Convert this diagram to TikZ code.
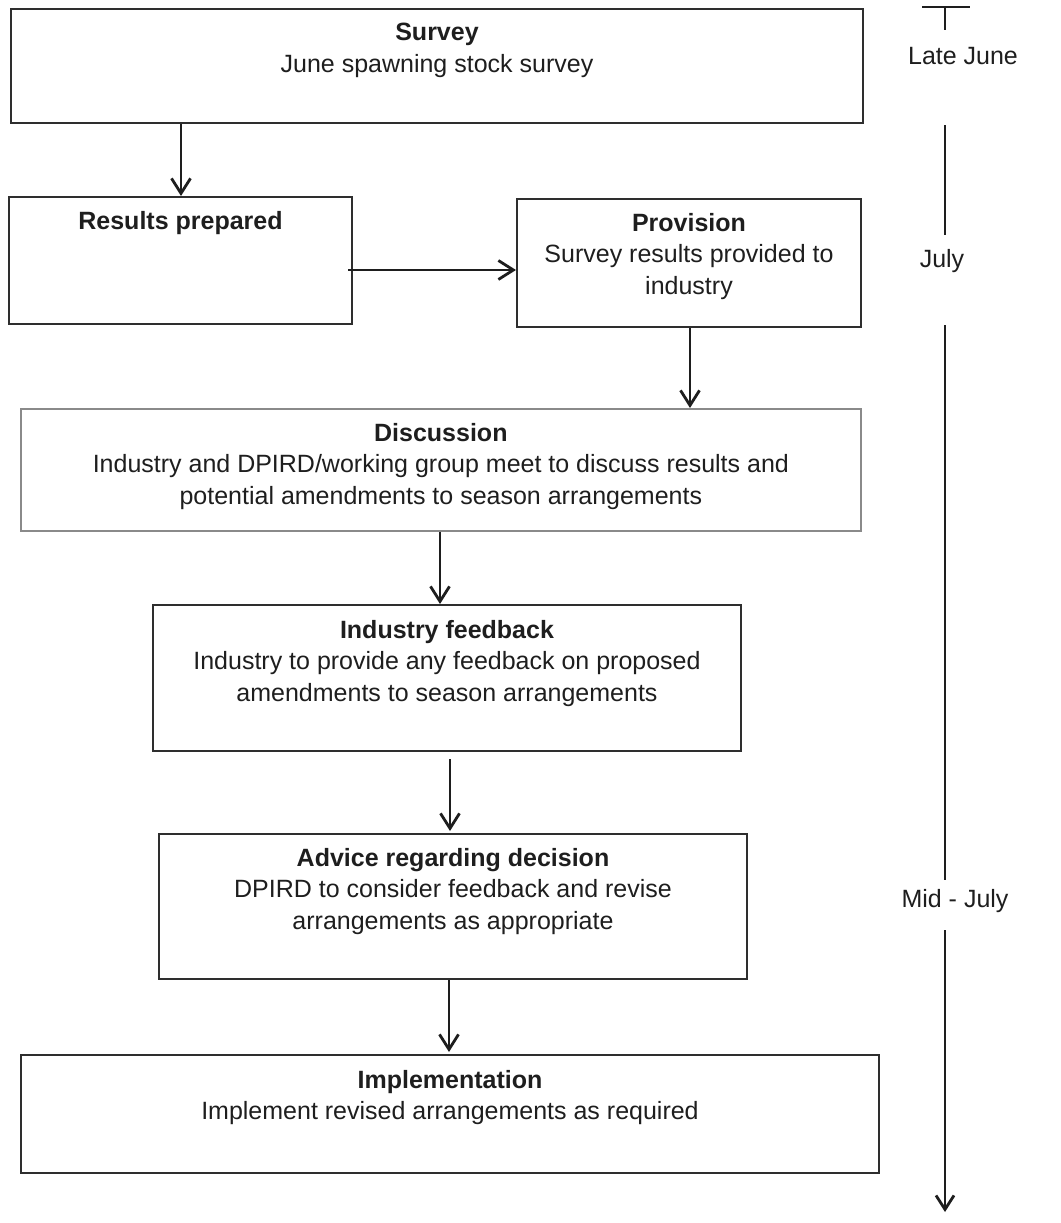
\documentclass[tikz,border=0pt]{standalone}
\usepackage{fontspec}
\setmainfont{Liberation Sans}
\usetikzlibrary{arrows.meta}
\definecolor{ink}{HTML}{1E1E1E}
\definecolor{frame}{HTML}{2E2E2E}
\definecolor{softframe}{HTML}{8A8A8A}
\begin{document}
\begin{tikzpicture}[x=1pt,y=-1pt,
  box/.style={draw=frame, line width=2pt, rectangle, anchor=north west, inner sep=0pt},
  softbox/.style={box, draw=softframe, line width=1.7pt},
  txt/.style={anchor=north, inner sep=0pt, align=center, text=ink,
    font=\fontsize{25}{31.5}\selectfont},
  flow/.style={draw=ink, line width=2.4pt, -{Straight Barb[length=15pt,width=19pt,line width=2.8pt]}},
  time/.style={draw=ink, line width=2.4pt},
  when/.style={text=ink, inner sep=0pt, font=\fontsize{25}{31.5}\selectfont}]
\useasboundingbox (0,0) rectangle (1060,1223);

% process boxes
\node[box, minimum width=852pt, minimum height=114pt] (survey) at (10,8) {};
\node[box, minimum width=343pt, minimum height=127pt] (results) at (8,196) {};
\node[box, minimum width=344pt, minimum height=128pt] (prov) at (516,198) {};
\node[softbox, minimum width=840pt, minimum height=122pt] (disc) at (20,408) {};
\node[box, minimum width=588pt, minimum height=146pt] (feed) at (152,604) {};
\node[box, minimum width=588pt, minimum height=145pt] (advice) at (158,833) {};
\node[box, minimum width=858pt, minimum height=118pt] (impl) at (20,1054) {};

% box texts
\node[txt] (survey-t) at ([yshift=-15pt]survey.north) {\textbf{Survey}\\June spawning stock survey};
\node[txt] (results-t) at ([yshift=-15pt]results.north) {\textbf{Results prepared}};
\node[txt] (prov-t) at ([yshift=-15pt]prov.north) {\textbf{Provision}\\Survey results provided to\\industry};
\node[txt] (disc-t) at ([yshift=-15pt]disc.north) {\textbf{Discussion}\\Industry and DPIRD/working group meet to discuss results and\\potential amendments to season arrangements};
\node[txt] (feed-t) at ([yshift=-16pt]feed.north) {\textbf{Industry feedback}\\Industry to provide any feedback on proposed\\amendments to season arrangements};
\node[txt] (advice-t) at ([yshift=-15pt]advice.north) {\textbf{Advice regarding decision}\\DPIRD to consider feedback and revise\\arrangements as appropriate};
\node[txt] (impl-t) at ([yshift=-16pt]impl.north) {\textbf{Implementation}\\Implement revised arrangements as required};

% flow arrows
\draw[flow] (survey.south -| 181,0) -- (results.north -| 181,0);
\draw[flow] (348,270) -- (prov.west |- 0,270);
\draw[flow] (prov.south -| 690,0) -- (disc.north -| 690,0);
\draw[flow] (disc.south -| 440,0) -- (feed.north -| 440,0);
\draw[flow] ([yshift=-7pt]feed.south -| 450,0) -- ([yshift=2pt]advice.north -| 450,0);
\draw[flow] (advice.south -| 449,0) -- ([yshift=2pt]impl.north -| 449,0);

% timeline
\node[when] (lj) at (963,56) {Late June};
\node[when] (jul) at (942,261) {July};
\node[when] (mid) at (955,901) {Mid - July};
\coordinate (barL) at (922,7);
\coordinate (barR) at (970,7);
\coordinate (bar) at (945,7);
\coordinate (barEnd) at (945,30);
\coordinate (a1) at (945,125);
\coordinate (a2) at (945,235);
\coordinate (b1) at (945,325);
\coordinate (b2) at (945,880);
\coordinate (c1) at (945,930);
\coordinate (c2) at (945,1212);
\draw[time] (barL) -- (barR);
\draw[time] (bar) -- (barEnd);
\draw[time] (a1) -- (a2);
\draw[time] (b1) -- (b2);
\draw[time, -{Straight Barb[length=14pt,width=18pt,line width=2.8pt]}] (c1) -- (c2);
\end{tikzpicture}
\end{document}
